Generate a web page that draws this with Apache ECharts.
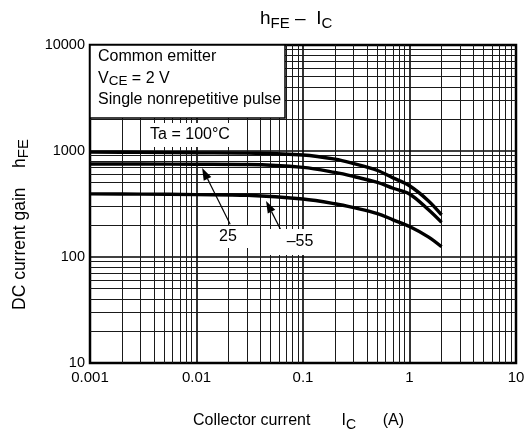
<!DOCTYPE html>
<html>
<head>
<meta charset="utf-8">
<script src="https://cdn.jsdelivr.net/npm/echarts@6/dist/echarts.min.js"></script>
<style>
html,body{margin:0;padding:0;background:#fff;}
#chart{width:530px;height:439px;}
</style>
</head>
<body>
<div id="chart"></div>
<script>
// ---- data ----
var currentA = [0.001, 0.003, 0.01, 0.03, 0.1, 0.2, 0.3, 0.5, 0.7, 1, 1.5, 2];
var hfe100 = [975, 970, 962, 955, 918, 838, 760, 655, 558, 470, 340, 250];
var hfe25 = [755, 753, 750, 745, 700, 628, 575, 505, 445, 393, 280, 212];
var hfeM55 = [394, 392, 388, 382, 352, 318, 292, 257, 224, 194, 155, 125];
var xDecades = [0.001, 0.01, 0.1, 1];
var yDecades = [10, 100, 1000];
var minorMult = [2, 3, 4, 5, 6, 7, 8, 9];
var xRange = [0.001, 10];
var yRange = [10, 10000];
// annotation arrows: [fromX, fromY, toX, toY]
var arrows = [[0.0207, 204, 0.0113, 690], [0.063, 174, 0.045, 338]];

var FONT = 'Liberation Sans, Arial, Helvetica, sans-serif';

function pairs(xs, ys) { return xs.map(function (x, i) { return [x, ys[i]]; }); }

var minorX = [], minorY = [];
xDecades.forEach(function (d) { minorMult.forEach(function (m) { minorX.push(+(d * m).toPrecision(3)); }); });
yDecades.forEach(function (d) { minorMult.forEach(function (m) { minorY.push(d * m); }); });

var chart = echarts.init(document.getElementById('chart'), null, { renderer: 'canvas' });

function curve(name, ys) {
  return {
    name: name, type: 'line', data: pairs(currentA, ys), smooth: 0.35,
    showSymbol: false, symbol: 'none', z: 5,
    lineStyle: { color: '#000', width: 3.4 }, animation: false, silent: true
  };
}

function crisp(v) { return Math.round(v - 0.5) + 0.5; }

chart.setOption({
  animation: false,
  grid: { left: 90, right: 14, top: 45, bottom: 76, show: true, borderColor: '#000', borderWidth: 2.5, backgroundColor: '#fff' },
  xAxis: {
    type: 'log', logBase: 10, min: xRange[0], max: xRange[1],
    axisLine: { show: false }, axisTick: { show: false },
    axisLabel: { color: '#000', fontSize: 15, fontFamily: FONT, margin: 7,
      formatter: function (v) { return String(+v.toPrecision(3)); } },
    splitLine: { show: true, lineStyle: { color: '#000', width: 1.6 } }
  },
  yAxis: {
    type: 'log', logBase: 10, min: yRange[0], max: yRange[1],
    axisLine: { show: false }, axisTick: { show: false },
    axisLabel: { color: '#000', fontSize: 14.5, fontFamily: FONT, margin: 5,
      formatter: function (v) { return String(Math.round(v)); } },
    splitLine: { show: true, lineStyle: { color: '#000', width: 1.6 } }
  },
  series: [
    {
      type: 'custom', coordinateSystem: 'cartesian2d', silent: true, z: 1, animation: false,
      data: minorX.map(function (v) { return [v, yRange[0]]; }),
      encode: { x: 0, y: 1 },
      renderItem: function (params, api) {
        var v = api.value(0);
        var p1 = api.coord([v, yRange[0]]), p2 = api.coord([v, yRange[1]]);
        var x = crisp(p1[0]);
        return { type: 'line', shape: { x1: x, y1: p1[1], x2: x, y2: p2[1] },
          style: { stroke: '#1a1a1a', lineWidth: 1 } };
      }
    },
    {
      type: 'custom', coordinateSystem: 'cartesian2d', silent: true, z: 1, animation: false,
      data: minorY.map(function (v) { return [xRange[0], v]; }),
      encode: { x: 0, y: 1 },
      renderItem: function (params, api) {
        var v = api.value(1);
        var p1 = api.coord([xRange[0], v]), p2 = api.coord([xRange[1], v]);
        var y = crisp(p1[1]);
        return { type: 'line', shape: { x1: p1[0], y1: y, x2: p2[0], y2: y },
          style: { stroke: '#1a1a1a', lineWidth: 1 } };
      }
    },
    curve('100', hfe100),
    curve('25', hfe25),
    curve('-55', hfeM55),
    {
      type: 'custom', coordinateSystem: 'cartesian2d', silent: true, z: 20, animation: false,
      data: arrows,
      encode: { x: [0, 2], y: [1, 3] },
      renderItem: function (params, api) {
        var a = api.coord([api.value(0), api.value(1)]);
        var b = api.coord([api.value(2), api.value(3)]);
        var dx = b[0] - a[0], dy = b[1] - a[1], L = Math.sqrt(dx * dx + dy * dy);
        var ux = dx / L, uy = dy / L, hl = 12, hw = 4.2;
        var bx = b[0] - ux * hl, by = b[1] - uy * hl;
        return { type: 'group', children: [
          { type: 'line', shape: { x1: a[0], y1: a[1], x2: bx, y2: by }, style: { stroke: '#000', lineWidth: 1.2 } },
          { type: 'polygon', shape: { points: [[b[0], b[1]], [bx - uy * hw, by + ux * hw], [bx + uy * hw, by - ux * hw]] },
            style: { fill: '#000' } }
        ] };
      }
    }
  ],
  graphic: [
    { type: 'text', x: 260, y: 19, z: 100,
      style: { text: '{a|h}{b|FE}{a| \u2013  I}{b|C}', align: 'left', verticalAlign: 'middle',
        rich: { a: { fontSize: 19, fontFamily: FONT, color: '#000' },
                b: { fontSize: 15, fontFamily: FONT, color: '#000', padding: [9, 0, 0, 0] } } } },
    { type: 'rect', z: 100, shape: { x: 90, y: 45, width: 195, height: 73 },
      style: { fill: '#fff', stroke: '#000', lineWidth: 1.5 } },
    { type: 'text', x: 98, y: 57, z: 101,
      style: { text: 'Common emitter', font: '16px ' + FONT, fill: '#000', align: 'left', verticalAlign: 'middle' } },
    { type: 'text', x: 98, y: 79, z: 101,
      style: { text: '{a|V}{b|CE}{a| = 2 V}', align: 'left', verticalAlign: 'middle',
        rich: { a: { fontSize: 16, fontFamily: FONT, color: '#000' },
                b: { fontSize: 13.5, fontFamily: FONT, color: '#000', padding: [5, 0, 0, 0] } } } },
    { type: 'text', x: 98, y: 100, z: 101,
      style: { text: 'Single nonrepetitive pulse', font: '16px ' + FONT, fill: '#000', align: 'left', verticalAlign: 'middle' } },
    { type: 'text', x: 190, y: 135, z: 101,
      style: { text: 'Ta = 100\u00b0C', font: '16px ' + FONT, fill: '#000', align: 'center', verticalAlign: 'middle',
        backgroundColor: '#fff', padding: [4, 5] } },
    { type: 'text', x: 228, y: 237, z: 101,
      style: { text: '25', font: '16px ' + FONT, fill: '#000', align: 'center', verticalAlign: 'middle',
        backgroundColor: '#fff', padding: [3, 19] } },
    { type: 'text', x: 300, y: 242, z: 101,
      style: { text: '\u201355', font: '16px ' + FONT, fill: '#000', align: 'center', verticalAlign: 'middle',
        backgroundColor: '#fff', padding: [5, 18] } },
    { type: 'text', x: 20, y: 310, z: 101, rotation: Math.PI / 2,
      style: { text: '{a|DC current gain    h}{b|FE}', align: 'left', verticalAlign: 'middle',
        rich: { a: { fontSize: 17.5, fontFamily: FONT, color: '#000' },
                b: { fontSize: 15, fontFamily: FONT, color: '#000', padding: [8, 0, 0, 0] } } } },
    { type: 'text', x: 193, y: 421, z: 101,
      style: { text: '{a|Collector current       I}{b|C}{a|      (A)}', align: 'left', verticalAlign: 'middle',
        rich: { a: { fontSize: 16, fontFamily: FONT, color: '#000' },
                b: { fontSize: 14, fontFamily: FONT, color: '#000', padding: [8, 0, 0, 0] } } } }
  ]
});
</script>
</body>
</html>
